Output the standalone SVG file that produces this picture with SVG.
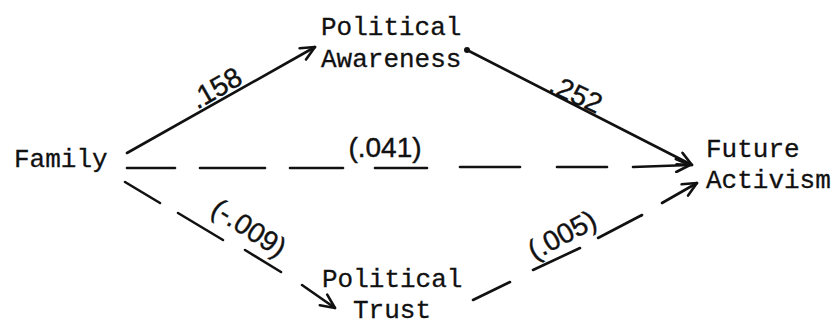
<svg xmlns="http://www.w3.org/2000/svg" width="840" height="325" viewBox="0 0 840 325">
<style>
.node{font-family:"Liberation Mono","Courier New",monospace;font-size:26px;fill:#111;stroke:#111;stroke-width:0.3}
.lab{font-family:"Liberation Sans",Arial,sans-serif;font-size:28px;fill:#111;stroke:#111;stroke-width:0.4;text-anchor:middle;dominant-baseline:central}
.ln{stroke:#111;stroke-width:2.6;fill:none;stroke-linecap:round}
</style>
<defs>
<marker id="ah" markerUnits="userSpaceOnUse" viewBox="0 0 18 16" refX="16" refY="8" markerWidth="18" markerHeight="16" orient="auto">
<path d="M2,1.5 L16,8 L2,14.5" fill="none" stroke="#111" stroke-width="2.6" stroke-linecap="round" stroke-linejoin="round"/>
</marker>
</defs>
<rect width="840" height="325" fill="#fff"/>
<g id="family"><text class="node" x="14" y="167">Family</text></g>
<g id="awareness"><text class="node" x="321" y="35">Political</text><text class="node" x="321" y="67">Awareness</text></g>
<g id="activism"><text class="node" x="706" y="157">Future</text><text class="node" x="706" y="188">Activism</text></g>
<g id="trust"><text class="node" x="322" y="287">Political</text><text class="node" x="353" y="318">Trust</text></g>
<g id="connectors">
<line class="ln" x1="127" y1="153" x2="315" y2="47" marker-end="url(#ah)"/>
<circle cx="467" cy="50" r="3" fill="#111"/>
<line class="ln" x1="467" y1="50" x2="692" y2="165" marker-end="url(#ah)"/>
<line class="ln" x1="127" y1="168" x2="175" y2="168"/>
<line class="ln" x1="200" y1="168" x2="265" y2="168"/>
<line class="ln" x1="290" y1="168" x2="343" y2="168"/>
<line class="ln" x1="375" y1="168" x2="427" y2="168"/>
<line class="ln" x1="460" y1="167" x2="520" y2="167"/>
<line class="ln" x1="557" y1="167" x2="607" y2="167"/>
<line class="ln" x1="633" y1="167" x2="690" y2="165" marker-end="url(#ah)"/>
<line class="ln" x1="125" y1="182" x2="160" y2="203"/>
<line class="ln" x1="178" y1="213" x2="223" y2="240"/>
<line class="ln" x1="245" y1="250" x2="281" y2="272"/>
<line class="ln" x1="302" y1="285" x2="335" y2="308" marker-end="url(#ah)"/>
<line class="ln" x1="473" y1="300" x2="510" y2="282"/>
<line class="ln" x1="533" y1="270" x2="580" y2="248"/>
<line class="ln" x1="598" y1="238" x2="642" y2="215"/>
<line class="ln" x1="662" y1="203" x2="697" y2="183" marker-end="url(#ah)"/>
<text class="lab" transform="translate(216,88) rotate(-30)">.158</text>
<text class="lab" transform="translate(576,94) rotate(25)">.252</text>
<text class="lab" transform="translate(385,147)">(.041)</text>
<text class="lab" transform="translate(249,228) rotate(33)">(-.009)</text>
<text class="lab" transform="translate(562,235) rotate(-28)">(.005)</text>
</g>
</svg>
